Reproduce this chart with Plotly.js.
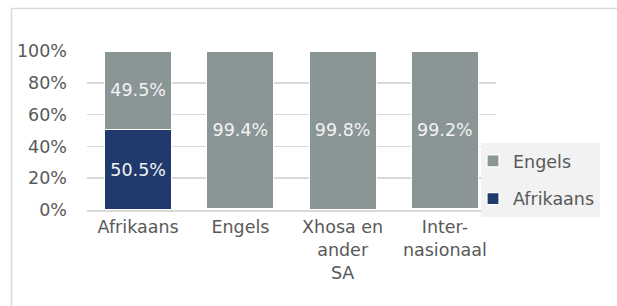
<!DOCTYPE html>
<html><head><meta charset="utf-8">
<script src="https://cdn.plot.ly/plotly-3.0.1.min.js"></script>
<style>html,body{margin:0;padding:0;background:#fff}#c{width:617px;height:306px}</style>
</head><body><div id="c"></div>
<script>
const categories = ["Afrikaans", "Engels", "Xhosa en<br>ander<br>SA", "Inter-<br>nasionaal"];
const afrikaans = [50.5, 0.6, 0.2, 0.8];
const engels = [49.5, 99.4, 99.8, 99.2];
const yTicks = [0, 20, 40, 60, 80, 100];
const yTickLabels = ["0%", "20%", "40%", "60%", "80%", "100%"];

const FONT = "DejaVu Sans, sans-serif";
const FS = 17.5;
const lbl = v => v >= 5 ? v.toFixed(1) + "%" : "";

const L = 87, R = 496, T = 51, B = 210, W = 617, H = 306;
const px = x => (x - L) / (R - L);
const py = y => (B - y) / (B - T);

const traces = [
  {type: "bar", name: "Afrikaans", legendgroup: "a", legendrank: 2, x: categories, y: afrikaans,
   marker: {color: "#213A6E", line: {color: "#ffffff", width: 1.2}},
   text: afrikaans.map(lbl), textposition: "inside", insidetextanchor: "middle",
   textangle: 0, constraintext: "none",
   textfont: {family: FONT, size: FS, color: "#F2F2F2"}, hoverinfo: "none"},
  {type: "bar", name: "Engels", legendgroup: "e", legendrank: 1, x: categories, y: engels,
   marker: {color: "#8A9595", line: {color: "#ffffff", width: 1.2}},
   text: engels.map(lbl), textposition: "inside", insidetextanchor: "middle",
   textangle: 0, constraintext: "none",
   textfont: {family: FONT, size: FS, color: "#F2F2F2"}, hoverinfo: "none"}
];

const layout = {
  width: W, height: H,
  margin: {l: L, r: W - R, t: T, b: H - B, pad: 0},
  barmode: "stack", bargap: 0.345,
  paper_bgcolor: "#ffffff", plot_bgcolor: "#ffffff",
  font: {family: FONT, size: FS, color: "#595959"},
  showlegend: true,
  legend: {x: px(481), y: py(143), xanchor: "left", yanchor: "top",
           bgcolor: "#F2F2F2", traceorder: "grouped",
           font: {family: FONT, size: FS, color: "#595959"},
           itemwidth: 30, tracegroupgap: 12, indentation: -8},
  xaxis: {type: "category", tickfont: {family: FONT, size: FS, color: "#595959"},
          showgrid: false, showline: true, linecolor: "#D9D9D9", linewidth: 2,
          ticks: "", fixedrange: true, automargin: false},
  yaxis: {range: [0, 100], tickvals: yTicks, ticktext: yTickLabels,
          tickfont: {family: FONT, size: FS, color: "#595959"},
          showgrid: true, gridcolor: "#D9D9D9", gridwidth: 1.5,
          zeroline: false, showline: false, ticks: "", ticklabelstandoff: 19,
          fixedrange: true, automargin: false},
  shapes: [
    {type: "line", xref: "paper", yref: "paper", x0: px(11.5), x1: px(11.5), y0: py(H + 50), y1: py(8.5),
     line: {color: "#D9D9D9", width: 1.5}, layer: "below"},
    {type: "line", xref: "paper", yref: "paper", x0: px(11.5), x1: px(W + 50), y0: py(8.5), y1: py(8.5),
     line: {color: "#D9D9D9", width: 1.5}, layer: "below"}
  ]
};

Plotly.newPlot("c", traces, layout, {staticPlot: true, displayModeBar: false});
</script></body></html>
